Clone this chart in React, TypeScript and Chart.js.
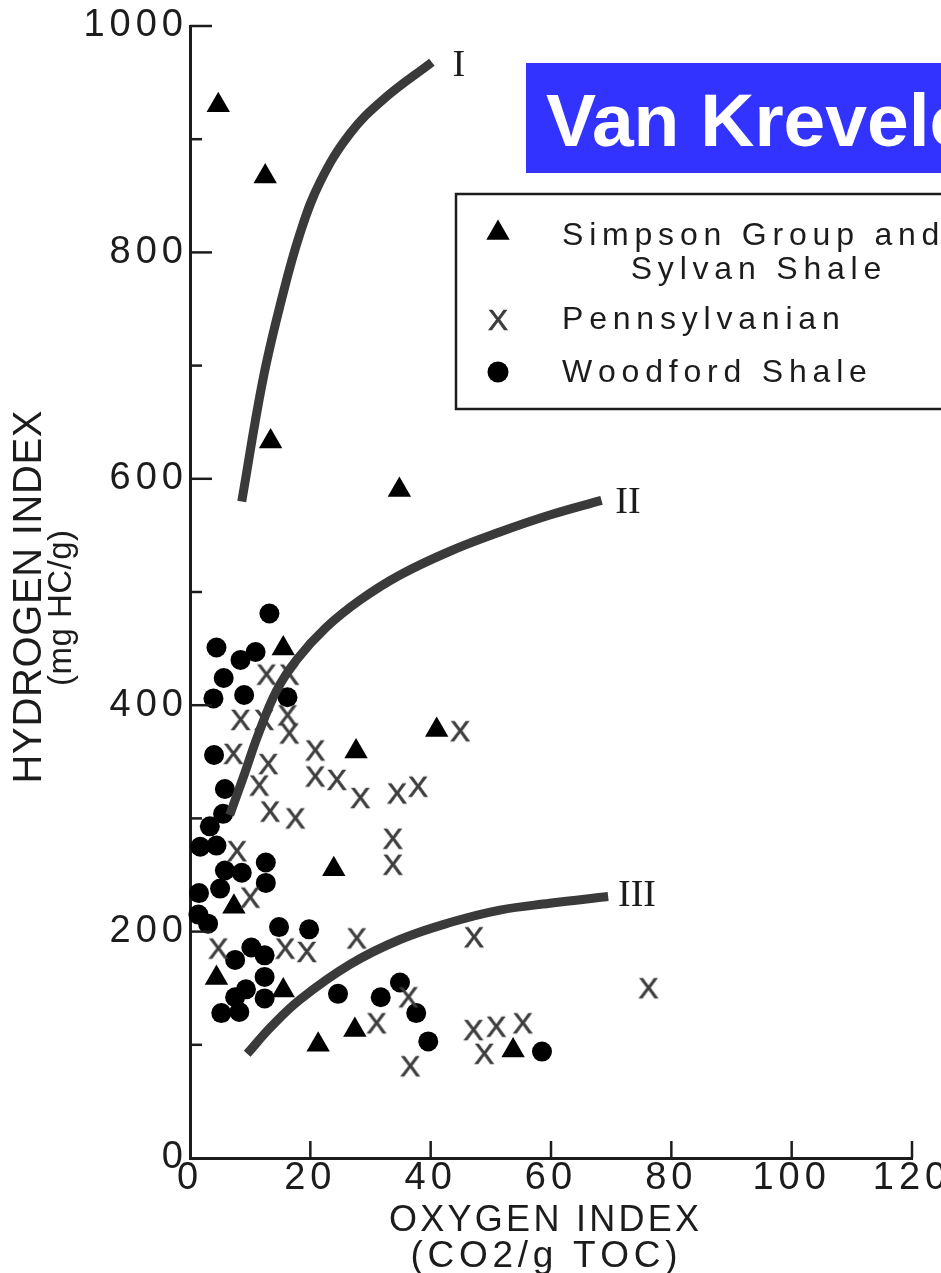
import React, { useEffect, useRef } from 'react';
import { Chart, registerables } from 'chart.js';

Chart.register(...registerables);

// ---------------- data ----------------
// Simpson Group and Sylvan Shale (triangles)
const simpsonOI = [4.7, 12.5, 13.4, 34.8, 15.5, 41.0, 27.6, 23.9, 7.3, 4.4, 15.5, 27.4, 21.3, 53.7];
const simpsonHI = [930, 867, 633, 590, 450, 378, 359, 255, 222, 159, 148, 113, 100, 95];

// Pennsylvanian (X)
const pennOI = [12.7, 16.5, 8.4, 12.3, 16.2, 16.5, 7.2, 13.0, 20.8, 44.9, 11.5, 20.8, 24.4, 28.3, 34.4, 37.9, 13.3, 17.5, 33.7, 33.7, 7.8, 10.0, 4.7, 15.8, 19.4, 27.7, 47.2, 36.3, 31.0, 36.6, 47.1, 50.9, 55.3, 48.9, 76.2];
const pennHI = [427, 427, 387, 387, 391, 375, 357, 348, 360, 377, 329, 337, 334, 318, 322, 328, 306, 300, 282, 259, 271, 230, 185, 185, 182, 194, 195, 142, 119, 81, 113, 116, 119, 92, 150];

// Woodford Shale (dots)
const woodOI = [13.2, 4.4, 10.9, 8.4, 5.6, 3.9, 9.0, 16.2, 4.0, 5.8, 5.5, 3.3, 1.7, 4.4, 12.6, 5.8, 8.6, 12.6, 5.0, 1.5, 1.4, 3.0, 14.8, 19.8, 10.2, 12.4, 7.5, 12.4, 9.3, 7.5, 12.4, 5.2, 8.2, 24.6, 31.7, 34.9, 37.6, 39.6, 58.5];
const woodHI = [481, 451, 447, 440, 424, 406, 409, 407, 356, 326, 304, 293, 275, 276, 261, 254, 252, 243, 238, 234, 215, 207, 204, 202, 186, 179, 175, 160, 149, 142, 141, 128, 129, 145, 142, 155, 128, 103, 94];

// Kerogen type curves
const curveIOI = [8.6, 12.1, 15.2, 18.3, 21.6, 26.6, 32.1, 40.2];
const curveIHI = [580, 687, 758, 817, 862, 905, 935, 968];
const curveIIOI = [6.6, 8.9, 11.4, 14.4, 17.7, 22.7, 28.3, 34.9, 43.2, 51.5, 59.8, 68.4];
const curveIIHI = [303, 337, 375, 413, 440, 469, 493, 515, 536, 553, 568, 581];
const curveIIIOI = [9.5, 13.5, 18.3, 26.6, 34.9, 43.2, 51.5, 59.8, 69.5];
const curveIIIHI = [92, 116, 140, 171, 193, 208, 219, 225, 231];

// Curve labels (data coordinates)
const curveLabels = ['I', 'II', 'III'];
const curveLabelOI = [44.7, 72.8, 74.3];
const curveLabelHI = [965, 579, 231];

// Texts
const legendLines = [['Simpson Group and', 'Sylvan Shale'], ['Pennsylvanian'], ['Woodford Shale']];
const titleText = 'Van Krevelen Diagram';
const xTitleLines = ['OXYGEN INDEX', '(CO2/g TOC)'];
const yTitleLines = ['HYDROGEN INDEX', '(mg HC/g)'];
const xTickStep = 20;
const yTickStep = 100;
const yLabelStep = 200;

// ---------------- helpers ----------------
const SANS = '"Liberation Sans", Arial, Helvetica, sans-serif';
const SERIF = '"Liberation Serif", "Times New Roman", serif';
const INK = '#1c1c1c';

const zip = (xs: number[], ys: number[]) => xs.map((x, i) => ({ x, y: ys[i] }));

function charWidths(ctx: any, text: string) {
  return [...text].map((c) => ctx.measureText(c).width);
}

function drawSpaced(ctx: any, text: string, x: number, y: number, spacing: number, align: 'left' | 'center') {
  const chars = [...text];
  const w = charWidths(ctx, text);
  const total = w.reduce((a, b) => a + b, 0) + spacing * (chars.length - 1);
  let cx = align === 'center' ? x - total / 2 : x;
  ctx.textAlign = 'left';
  chars.forEach((c, i) => {
    ctx.fillText(c, cx, y);
    cx += w[i] + spacing;
  });
}

function drawFitted(ctx: any, text: string, cx: number, cy: number, width: number) {
  const chars = [...text];
  const nat = charWidths(ctx, text).reduce((a, b) => a + b, 0);
  const spacing = Math.max(0, (width - nat) / (chars.length - 1));
  drawSpaced(ctx, text, cx, cy, spacing, 'center');
}

function makeXMarker(): HTMLCanvasElement {
  const size = 32;
  const c = document.createElement('canvas');
  c.width = size;
  c.height = size;
  const g = c.getContext('2d') as any;
  g.font = `30px ${SANS}`;
  g.fillStyle = '#3c3c3c';
  g.strokeStyle = '#3c3c3c';
  g.lineWidth = 0.7;
  g.textAlign = 'center';
  g.textBaseline = 'alphabetic';
  const m = g.measureText('X');
  const asc = m.actualBoundingBoxAscent || 21;
  const desc = m.actualBoundingBoxDescent || 0;
  const by = size / 2 + (asc - desc) / 2;
  g.fillText('X', size / 2, by);
  g.strokeText('X', size / 2, by);
  return c;
}

function triangle(ctx: any, x: number, y: number, r: number) {
  ctx.beginPath();
  for (let k = 0; k < 3; k++) {
    const a = (k * 2 * Math.PI) / 3;
    const px = x + Math.sin(a) * r;
    const py = y - Math.cos(a) * r;
    if (k === 0) ctx.moveTo(px, py);
    else ctx.lineTo(px, py);
  }
  ctx.closePath();
  ctx.fill();
}

// ---------------- component ----------------
export default function App() {
  const ref = useRef<HTMLCanvasElement>(null);

  useEffect(() => {
    const canvas = ref.current as HTMLCanvasElement;
    const xMarker = makeXMarker();

    const decor = {
      id: 'decor',
      beforeDraw(chart: any) {
        chart.ctx.letterSpacing = '5px';
      },
      beforeDatasetsDraw(chart: any) {
        chart.ctx.letterSpacing = '0px';
      },
      afterDraw(chart: any) {
        const ctx = chart.ctx;
        const xs = chart.scales.x;
        const ys = chart.scales.y;
        const area = chart.chartArea;
        ctx.save();
        ctx.letterSpacing = '0px';

        // inward tick marks
        ctx.strokeStyle = INK;
        ctx.lineWidth = 2.5;
        ctx.lineCap = 'butt';
        xs.ticks.forEach((t: any) => {
          if (t.value === 0) return;
          const px = xs.getPixelForValue(t.value);
          ctx.beginPath();
          ctx.moveTo(px, area.bottom);
          ctx.lineTo(px, area.bottom - 17);
          ctx.stroke();
        });
        ys.ticks.forEach((t: any) => {
          if (t.value === 0) return;
          const py = ys.getPixelForValue(t.value);
          const len = t.value % yLabelStep === 0 ? 22 : 12;
          ctx.beginPath();
          ctx.moveTo(area.left, py);
          ctx.lineTo(area.left + len, py);
          ctx.stroke();
        });

        // curve labels
        ctx.fillStyle = INK;
        ctx.font = `38px ${SERIF}`;
        ctx.textAlign = 'center';
        ctx.textBaseline = 'middle';
        curveLabels.forEach((lab, i) => {
          ctx.fillText(lab, xs.getPixelForValue(curveLabelOI[i]), ys.getPixelForValue(curveLabelHI[i]));
        });

        // axis titles
        ctx.textBaseline = 'middle';
        ctx.font = `36px ${SANS}`;
        drawFitted(ctx, xTitleLines[0], 544, 1221, 310);
        ctx.font = `37px ${SANS}`;
        drawFitted(ctx, xTitleLines[1], 544, 1257, 267);

        ctx.save();
        ctx.translate(30, 597);
        ctx.rotate(-Math.PI / 2);
        ctx.font = `40px ${SANS}`;
        drawFitted(ctx, yTitleLines[0], 0, 0, 373);
        ctx.restore();
        ctx.save();
        ctx.translate(62, 608);
        ctx.rotate(-Math.PI / 2);
        ctx.font = `33px ${SANS}`;
        drawFitted(ctx, yTitleLines[1], 0, 0, 156);
        ctx.restore();

        // legend box
        ctx.fillStyle = '#ffffff';
        ctx.fillRect(456, 194, 600, 215);
        ctx.strokeStyle = INK;
        ctx.lineWidth = 2.5;
        ctx.strokeRect(456, 194, 600, 215);

        ctx.fillStyle = '#000000';
        triangle(ctx, 498, 233, 13.5);
        ctx.drawImage(xMarker, 498 - xMarker.width / 2, 320 - xMarker.height / 2);
        ctx.beginPath();
        ctx.arc(498, 372, 10.5, 0, Math.PI * 2);
        ctx.fill();

        ctx.fillStyle = INK;
        ctx.font = `32px ${SANS}`;
        ctx.textBaseline = 'alphabetic';
        drawSpaced(ctx, legendLines[0][0], 562, 245, 5.8, 'left');
        drawSpaced(ctx, legendLines[0][1], 756, 279, 5.8, 'center');
        drawSpaced(ctx, legendLines[1][0], 562, 329, 5.8, 'left');
        drawSpaced(ctx, legendLines[2][0], 562, 382, 5.8, 'left');

        // title banner
        ctx.fillStyle = '#3333ff';
        ctx.fillRect(526, 63, 430, 110);
        ctx.fillStyle = '#ffffff';
        ctx.font = `bold 75px ${SANS}`;
        ctx.textAlign = 'left';
        ctx.textBaseline = 'alphabetic';
        ctx.fillText(titleText, 546, 146);

        ctx.restore();
      },
    };

    const curveStyle = {
      showLine: true,
      pointRadius: 0,
      pointHoverRadius: 0,
      borderColor: '#3a3a3a',
      borderWidth: 9,
      borderCapStyle: 'butt',
      tension: 0.4,
      fill: false,
      order: 0,
      clip: false,
    };

    const config: any = {
      type: 'scatter',
      data: {
        datasets: [
          { ...curveStyle, label: 'I', data: zip(curveIOI, curveIHI) },
          { ...curveStyle, label: 'II', data: zip(curveIIOI, curveIIHI) },
          { ...curveStyle, label: 'III', data: zip(curveIIIOI, curveIIIHI) },
          {
            label: legendLines[1].join(' '),
            data: zip(pennOI, pennHI),
            pointStyle: xMarker,
            pointRadius: 12,
            order: 1,
            clip: false,
          },
          {
            label: legendLines[0].join(' '),
            data: zip(simpsonOI, simpsonHI),
            pointStyle: 'triangle',
            pointRadius: 13.5,
            backgroundColor: '#000000',
            borderColor: '#000000',
            borderWidth: 0,
            order: 2,
            clip: false,
          },
          {
            label: legendLines[2].join(' '),
            data: zip(woodOI, woodHI),
            pointStyle: 'circle',
            pointRadius: 10,
            backgroundColor: '#000000',
            borderColor: '#000000',
            borderWidth: 0,
            order: 3,
            clip: false,
          },
        ],
      },
      options: {
        responsive: false,
        maintainAspectRatio: false,
        animation: false,
        events: [],
        layout: { padding: { left: 0, top: 26, right: 29, bottom: 0 } },
        plugins: {
          legend: { display: false },
          tooltip: { enabled: false },
          title: { display: false },
        },
        scales: {
          x: {
            type: 'linear',
            min: 0,
            max: 120,
            grid: { display: false, drawTicks: false },
            border: { display: true, color: INK, width: 3 },
            ticks: {
              stepSize: xTickStep,
              autoSkip: false,
              maxRotation: 0,
              minRotation: 0,
              padding: 0,
              color: INK,
              font: { family: SANS, size: 38, lineHeight: 1.1 },
            },
            afterFit: (s: any) => {
              s.height = 115;
              s.paddingLeft = 0;
              s.paddingRight = 0;
            },
          },
          y: {
            type: 'linear',
            min: 0,
            max: 1000,
            grid: { display: false, drawTicks: false },
            border: { display: true, color: INK, width: 3 },
            ticks: {
              stepSize: yTickStep,
              autoSkip: false,
              padding: 2,
              color: INK,
              font: { family: SANS, size: 38, lineHeight: 1.1 },
              callback: (v: any) => (Number(v) % yLabelStep === 0 ? String(v) : ''),
            },
            afterFit: (s: any) => {
              s.width = 190;
              s.paddingTop = 0;
              s.paddingBottom = 0;
            },
          },
        },
      },
      plugins: [decor],
    };

    const chart = new Chart(canvas, config);
    return () => chart.destroy();
  }, []);

  return (
    <div style={{ position: 'absolute', left: 0, top: 0, width: 941, height: 1273, background: '#ffffff', overflow: 'hidden' }}>
      <canvas ref={ref} width={941} height={1273} style={{ display: 'block', width: 941, height: 1273 }} />
    </div>
  );
}
